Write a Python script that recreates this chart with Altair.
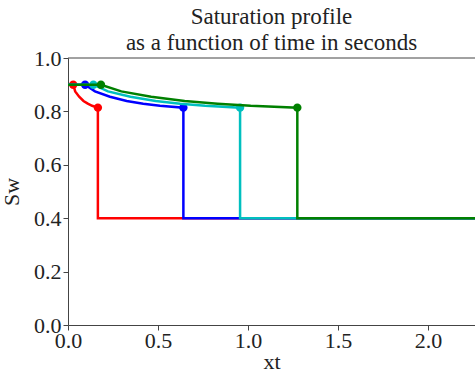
import altair as alt
import pandas as pd

series_names = ["t1", "t2", "t3", "t4"]
series_colors = ["#ff0000", "#0000ff", "#00bfbf", "#008000"]

sw_profile = [0.9, 0.9, 0.875, 0.855, 0.839, 0.829, 0.821, 0.814, 0.4, 0.4]

xt_red = [0.0, 0.029, 0.040, 0.062, 0.086, 0.110, 0.134, 0.166, 0.166, 2.4]
xt_blue = [0.0, 0.095, 0.150, 0.233, 0.326, 0.418, 0.511, 0.641, 0.641, 2.4]
xt_cyan = [0.0, 0.141, 0.222, 0.347, 0.487, 0.623, 0.762, 0.956, 0.956, 2.4]
xt_green = [0.0, 0.183, 0.296, 0.462, 0.648, 0.831, 1.015, 1.274, 1.274, 2.4]

# marker points: start of rarefaction and top of shock
dot_index = [1, 7]

x_ticks = [0.0, 0.5, 1.0, 1.5, 2.0]
y_ticks = [0.0, 0.2, 0.4, 0.6, 0.8, 1.0]

FONT = "Liberation Serif, Times New Roman, serif"
X_MAX = 407 / 180.0

all_xt = [xt_red, xt_blue, xt_cyan, xt_green]

x_enc_scale = alt.Scale(domain=[0, X_MAX], nice=False, zero=False)
y_enc_scale = alt.Scale(domain=[0, 1.0], nice=False)

x_axis = alt.Axis(values=x_ticks, format=".1f", title="xt", grid=False,
                  tickSize=5, labelPadding=0, titlePadding=0, labelFlush=False)
y_axis = alt.Axis(values=y_ticks, format=".1f", title="Sw", grid=False,
                  tickSize=5, labelPadding=2, titlePadding=10, labelFlush=False)

layers = []
for name, color, xs in zip(series_names, series_colors, all_xt):
    df = pd.DataFrame({"xt": xs, "sw": sw_profile, "order": list(range(len(xs)))})
    line = alt.Chart(df).mark_line(color=color, strokeWidth=2.5, clip=True).encode(
        x=alt.X("xt:Q", scale=x_enc_scale, axis=x_axis),
        y=alt.Y("sw:Q", scale=y_enc_scale, axis=y_axis),
        order="order:Q",
    )
    dots_df = df.iloc[dot_index]
    dots = alt.Chart(dots_df).mark_circle(color=color, size=70, opacity=1).encode(
        x=alt.X("xt:Q", scale=x_enc_scale, axis=x_axis),
        y=alt.Y("sw:Q", scale=y_enc_scale, axis=y_axis),
    )
    layers += [line, dots]

top_spine = alt.Chart(pd.DataFrame({"v": [1.0]})).mark_rule(color="#444", strokeWidth=1).encode(
    y=alt.Y("v:Q", scale=y_enc_scale, axis=y_axis)
)
layers.append(top_spine)

chart = alt.layer(*layers).properties(
    width=407,
    height=267,
    title=alt.TitleParams(
        text=["Saturation profile", "as a function of time in seconds"],
        font=FONT, fontSize=23, fontWeight="normal", color="#222",
        lineHeight=26, offset=-8, anchor="middle",
    ),
    autosize=alt.AutoSizeParams(type="none"),
    padding={"left": 68, "top": 58, "right": 0, "bottom": 52},
).configure_view(stroke=None).configure_axis(
    labelFont=FONT, titleFont=FONT, labelFontSize=22, titleFontSize=22,
    labelColor="#222", titleColor="#222", titleFontWeight="normal",
    domainColor="#444", tickColor="#444", domainWidth=1,
)

chart.save("out.html", embed_options={"renderer": "svg", "actions": False})
